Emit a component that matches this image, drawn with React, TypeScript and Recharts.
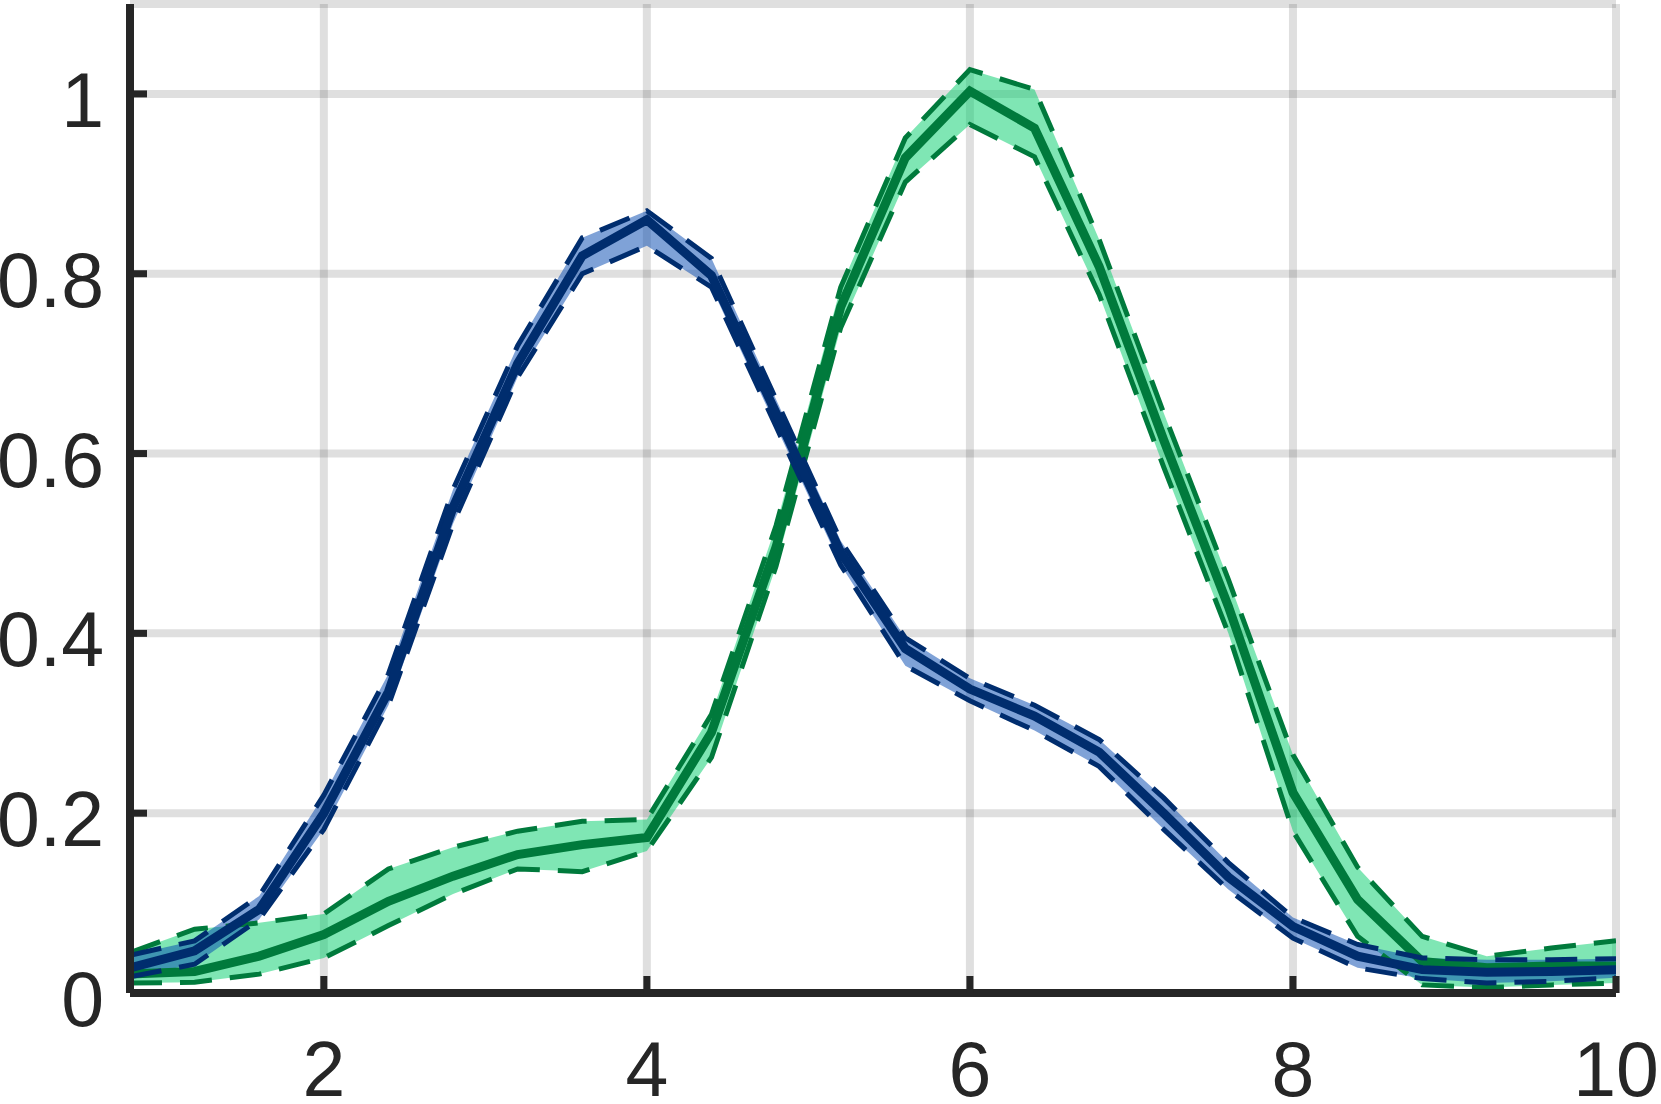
import React from 'react';
import { ComposedChart, Area, Line, XAxis, YAxis, CartesianGrid } from 'recharts';

// sample positions (x)
const xs = [0.8, 1.2, 1.6, 2.0, 2.4, 2.8, 3.2, 3.6, 4.0, 4.4, 4.8, 5.2, 5.6, 6.0, 6.4, 6.8, 7.2, 7.6, 8.0, 8.4, 8.8, 9.2, 9.6, 10.0];

// blue series: mean and bounds
const blueMean = [0.028, 0.047, 0.093, 0.2, 0.335, 0.54, 0.7, 0.82, 0.86, 0.798, 0.645, 0.49, 0.383, 0.338, 0.308, 0.268, 0.2, 0.129, 0.074, 0.041, 0.026, 0.023, 0.024, 0.026];
const blueHi = [0.042, 0.058, 0.108, 0.22, 0.355, 0.56, 0.72, 0.84, 0.87, 0.817, 0.66, 0.503, 0.395, 0.35, 0.32, 0.282, 0.217, 0.145, 0.084, 0.054, 0.039, 0.037, 0.037, 0.038];
const blueLo = [0.018, 0.032, 0.082, 0.182, 0.32, 0.522, 0.685, 0.8, 0.831, 0.785, 0.63, 0.476, 0.364, 0.325, 0.292, 0.252, 0.182, 0.115, 0.061, 0.028, 0.016, 0.011, 0.013, 0.017];

// green series: mean and bounds
const greenMean = [0.021, 0.024, 0.041, 0.065, 0.102, 0.13, 0.154, 0.165, 0.173, 0.29, 0.496, 0.763, 0.929, 1.003, 0.962, 0.808, 0.615, 0.43, 0.223, 0.104, 0.035, 0.028, 0.03, 0.03];
const greenHi = [0.045, 0.071, 0.078, 0.088, 0.138, 0.162, 0.18, 0.191, 0.193, 0.31, 0.52, 0.785, 0.951, 1.027, 1.005, 0.838, 0.645, 0.46, 0.265, 0.14, 0.063, 0.041, 0.05, 0.058];
const greenLo = [0.011, 0.012, 0.021, 0.039, 0.075, 0.11, 0.138, 0.135, 0.158, 0.262, 0.475, 0.74, 0.902, 0.966, 0.93, 0.777, 0.585, 0.4, 0.18, 0.063, 0.009, 0.006, 0.009, 0.011];

const xTicks = [2, 4, 6, 8, 10];
const xTickLabels = ['2', '4', '6', '8', '10'];
const yTicks = [0, 0.2, 0.4, 0.6, 0.8, 1];
const yTickLabels = ['0', '0.2', '0.4', '0.6', '0.8', '1'];

const data = xs.map((x, i) => ({
  x,
  bMean: blueMean[i],
  bLo: blueLo[i],
  bHi: blueHi[i],
  bBand: [blueLo[i], blueHi[i]],
  gMean: greenMean[i],
  gLo: greenLo[i],
  gHi: greenHi[i],
  gBand: [greenLo[i], greenHi[i]],
}));

const AXIS = '#262626';
const FONT = '"Liberation Sans", Arial, Helvetica, sans-serif';
const BLUE_LINE = '#002d6e';
const GREEN_LINE = '#007a3c';
const DASH = '32 18';

const XTick = (props: any) => {
  const { x, y, payload } = props;
  const idx = xTicks.indexOf(payload.value);
  return (
    <g>
      <line x1={x} y1={y} x2={x} y2={y - 17} stroke={AXIS} strokeWidth={7} />
      <text x={x} y={y + 103} textAnchor="middle" fill={AXIS} style={{ fontSize: 77, fontFamily: FONT }}>
        {idx >= 0 ? xTickLabels[idx] : payload.value}
      </text>
    </g>
  );
};

const YTick = (props: any) => {
  const { x, y, payload } = props;
  const idx = yTicks.indexOf(payload.value);
  return (
    <g>
      <line x1={x} y1={y} x2={x + 17} y2={y} stroke={AXIS} strokeWidth={7} />
      <text x={x - 26} y={y + 33} textAnchor="end" fill={AXIS} style={{ fontSize: 77, fontFamily: FONT }}>
        {idx >= 0 ? yTickLabels[idx] : payload.value}
      </text>
    </g>
  );
};

export default function App() {
  return (
    <div style={{ position: 'absolute', left: 0, top: 0, width: 1661, height: 1104, background: '#fff' }}>
      <ComposedChart width={1661} height={1104} data={data} margin={{ top: 4, right: 45, bottom: 0, left: 0 }}>
        <CartesianGrid stroke={AXIS} strokeOpacity={0.15} strokeWidth={8} />
        <XAxis
          dataKey="x"
          type="number"
          domain={[0.8, 10]}
          ticks={xTicks}
          allowDataOverflow
          height={111}
          tickSize={0}
          tickMargin={0}
          tick={<XTick />}
          axisLine={{ stroke: AXIS, strokeWidth: 8 }}
          tickLine={false}
        />
        <YAxis
          type="number"
          domain={[0, 1.1]}
          ticks={yTicks}
          allowDataOverflow
          width={130}
          tickSize={0}
          tickMargin={0}
          tick={<YTick />}
          axisLine={{ stroke: AXIS, strokeWidth: 8 }}
          tickLine={false}
        />

        {/* green series */}
        <Area type="linear" dataKey="gBand" stroke="none" fill="rgb(0,205,105)" fillOpacity={0.5} isAnimationActive={false} activeDot={false} />
        <Line type="linear" dataKey="gLo" stroke={GREEN_LINE} strokeWidth={5} strokeDasharray={DASH} dot={false} activeDot={false} isAnimationActive={false} />
        <Line type="linear" dataKey="gHi" stroke={GREEN_LINE} strokeWidth={5} strokeDasharray={DASH} dot={false} activeDot={false} isAnimationActive={false} />
        <Line type="linear" dataKey="gMean" stroke={GREEN_LINE} strokeWidth={9} dot={false} activeDot={false} isAnimationActive={false} />

        {/* blue series */}
        <Area type="linear" dataKey="bBand" stroke="none" fill="rgb(0,70,175)" fillOpacity={0.5} isAnimationActive={false} activeDot={false} />
        <Line type="linear" dataKey="bLo" stroke={BLUE_LINE} strokeWidth={5} strokeDasharray={DASH} dot={false} activeDot={false} isAnimationActive={false} />
        <Line type="linear" dataKey="bHi" stroke={BLUE_LINE} strokeWidth={5} strokeDasharray={DASH} dot={false} activeDot={false} isAnimationActive={false} />
        <Line type="linear" dataKey="bMean" stroke={BLUE_LINE} strokeWidth={9} dot={false} activeDot={false} isAnimationActive={false} />
      </ComposedChart>
    </div>
  );
}
